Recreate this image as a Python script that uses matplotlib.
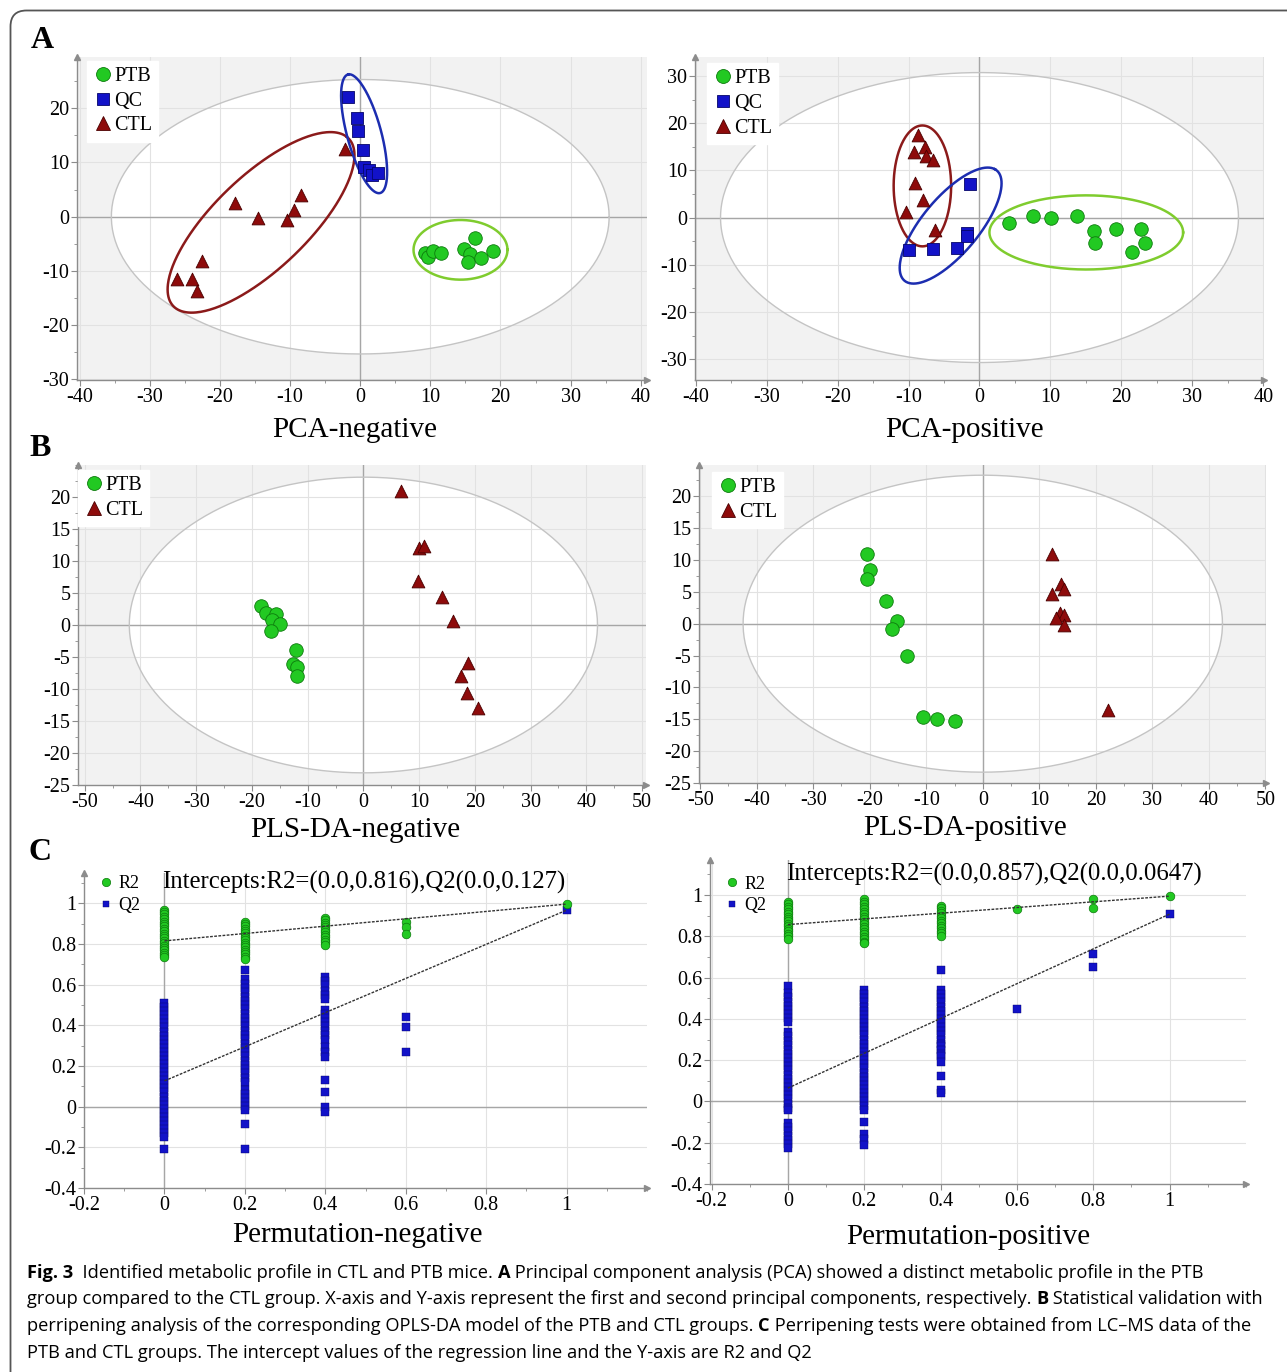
import numpy as np
import matplotlib
matplotlib.use('Agg')
import matplotlib.pyplot as plt
from matplotlib.ticker import AutoMinorLocator, FixedLocator, FuncFormatter
from matplotlib.patches import FancyBboxPatch
from matplotlib.lines import Line2D
import matplotlib.transforms as mtrans

SERIF = ['Liberation Serif', 'DejaVu Serif']
SANS = ['Open Sans', 'Noto Sans', 'DejaVu Sans']
plt.rcParams['axes.unicode_minus'] = False
plt.rcParams['font.family'] = SERIF

# ---------------- data ----------------
# PCA negative
pca_neg_ptb_x = [9.2, 9.7, 10.4, 11.5, 14.8, 15.6, 15.4, 16.3, 17.2, 18.9]
pca_neg_ptb_y = [-6.7, -7.5, -6.3, -6.7, -6.0, -6.9, -8.4, -4.0, -7.6, -6.4]
pca_neg_qc_x = [-1.8, -0.5, -0.3, 0.4, 0.5, 1.2, 1.7, 2.6]
pca_neg_qc_y = [22.1, 18.2, 15.8, 12.3, 9.2, 8.6, 7.7, 8.0]
pca_neg_ctl_x = [-2.2, -17.9, -14.6, -10.4, -9.5, -8.4, -22.5, -26.1, -24.0, -23.3]
pca_neg_ctl_y = [12.5, 2.6, -0.2, -0.6, 1.2, 4.0, -8.2, -11.5, -11.5, -13.7]
# PCA positive
pca_pos_ptb_x = [4.2, 7.5, 10.1, 13.8, 16.1, 16.3, 19.3, 22.8, 23.3, 21.5]
pca_pos_ptb_y = [-1.1, 0.3, 0.0, 0.35, -2.8, -5.4, -2.5, -2.5, -5.3, -7.2]
pca_pos_qc_x = [-1.4, -1.8, -1.75, -3.2, -6.5, -9.9]
pca_pos_qc_y = [7.2, -3.2, -3.8, -6.4, -6.7, -6.9]
pca_pos_ctl_x = [-8.6, -7.7, -9.3, -7.6, -6.6, -9.1, -8.0, -10.3, -6.3]
pca_pos_ctl_y = [17.4, 15.0, 13.9, 13.1, 12.1, 7.3, 3.7, 1.1, -2.7]
# PLS-DA negative
pls_neg_ptb_x = [-18.3, -17.4, -15.7, -16.4, -14.9, -16.6, -12.1, -12.6, -12.0, -11.9]
pls_neg_ptb_y = [2.9, 1.8, 1.7, 0.8, 0.2, -0.9, -3.9, -6.1, -6.6, -7.9]
pls_neg_ctl_x = [6.8, 10.0, 10.9, 9.8, 14.1, 16.1, 18.8, 17.6, 18.6, 20.6]
pls_neg_ctl_y = [20.9, 12.0, 12.3, 6.9, 4.4, 0.7, -6.0, -7.9, -10.7, -12.9]
# PLS-DA positive
pls_pos_ptb_x = [-20.4, -19.9, -20.4, -17.1, -15.1, -16.0, -13.4, -10.6, -8.1, -5.0]
pls_pos_ptb_y = [11.0, 8.4, 7.0, 3.5, 0.4, -0.8, -5.1, -14.7, -15.0, -15.3]
pls_pos_ctl_x = [12.3, 13.8, 14.3, 12.2, 13.6, 14.3, 13.0, 14.4, 22.2]
pls_pos_ctl_y = [10.9, 6.2, 5.5, 4.6, 1.7, 1.4, 0.9, -0.2, -13.6]

# Confidence ellipses: centre, half-axis vectors u and v (data units)
t2_pca_neg = [0.0, 0.0, 35.5, 0.0, 0.0, 25.3]
t2_pca_pos = [0.0, 0.0, 36.5, 0.0, 0.0, 30.7]
t2_pls_neg = [0.0, 0.0, 42.0, 0.0, 0.0, 23.1]
t2_pls_pos = [0.0, 0.0, 42.4, 0.0, 0.0, 23.3]
ell_neg_ctl = [-14.15, -1.04, 12.2, 15.8, -5.36, 5.23]
ell_neg_qc = [0.55, 15.3, -2.25, 10.94, -2.39, -0.62]
ell_neg_ptb = [14.3, -6.1, 6.7, 0.0, 0.0, 5.5]
ell_pos_ctl = [-8.05, 6.7, 4.05, 0.0, 0.0, 12.8]
ell_pos_qc = [-4.07, -1.7, 6.24, 11.94, -3.55, 2.89]
ell_pos_ptb = [15.05, -3.15, 13.65, 0.0, 0.0, 7.85]

# Permutation tests (negative)
neg_perm_x = [0.0, 0.2, 0.4, 0.6, 1.0]
neg_r2_0 = [0.970, 0.958, 0.947, 0.935, 0.923, 0.911, 0.899, 0.887, 0.876, 0.864, 0.852,
            0.840, 0.829, 0.817, 0.805, 0.793, 0.781, 0.770, 0.758, 0.746, 0.735]
neg_r2_2 = [0.910, 0.899, 0.887, 0.876, 0.864, 0.853, 0.841, 0.830, 0.818, 0.807, 0.795,
            0.784, 0.772, 0.761, 0.749, 0.738, 0.726]
neg_r2_4 = [0.930, 0.918, 0.906, 0.894, 0.882, 0.870, 0.858, 0.846, 0.834, 0.822, 0.810, 0.798]
neg_r2_6 = [0.910, 0.885, 0.852]
neg_r2_10 = [0.997]
neg_q2_0 = [0.51, 0.49, 0.47, 0.45, 0.43, 0.41, 0.39, 0.37, 0.35, 0.33, 0.31, 0.29, 0.27,
            0.25, 0.23, 0.21, 0.19, 0.17, 0.15, 0.13, 0.11, 0.09, 0.07, 0.05, 0.03, 0.01,
            -0.01, -0.03, -0.05, -0.07, -0.09, -0.11, -0.13, -0.15, -0.21]
neg_q2_2 = [0.675, 0.626, 0.605, 0.584, 0.563, 0.542, 0.521, 0.500, 0.479, 0.458, 0.437,
            0.416, 0.395, 0.374, 0.353, 0.332, 0.311, 0.290, 0.269, 0.248, 0.227, 0.206,
            0.185, 0.164, 0.143, 0.123, 0.082, 0.062, 0.042, 0.022, 0.003, -0.016, -0.085, -0.21]
neg_q2_4 = [0.64, 0.62, 0.60, 0.57, 0.55, 0.53, 0.475, 0.455, 0.435, 0.415, 0.395, 0.375,
            0.355, 0.33, 0.295, 0.27, 0.246, 0.13, 0.074, 0.0, -0.025]
neg_q2_6 = [0.44, 0.39, 0.27]
neg_q2_10 = [0.967]
neg_r2_intercept, neg_q2_intercept = 0.816, 0.127

# Permutation tests (positive)
pos_perm_x = [0.0, 0.2, 0.4, 0.6, 0.8, 1.0]
pos_r2_0 = [0.968, 0.956, 0.944, 0.932, 0.920, 0.908, 0.896, 0.884, 0.872, 0.860, 0.848,
            0.836, 0.824, 0.812, 0.800, 0.788]
pos_r2_2 = [0.979, 0.967, 0.955, 0.943, 0.931, 0.919, 0.907, 0.895, 0.883, 0.871, 0.859,
            0.847, 0.835, 0.823, 0.811, 0.799, 0.787, 0.775, 0.769]
pos_r2_4 = [0.948, 0.936, 0.924, 0.912, 0.900, 0.888, 0.876, 0.864, 0.852, 0.840, 0.828,
            0.816, 0.804]
pos_r2_6 = [0.934]
pos_r2_8 = [0.979, 0.939]
pos_r2_10 = [0.995]
pos_q2_0 = [0.561, 0.524, 0.504, 0.484, 0.464, 0.444, 0.424, 0.404, 0.387, 0.335, 0.315,
            0.295, 0.275, 0.25, 0.23, 0.21, 0.19, 0.17, 0.15, 0.13, 0.11, 0.09, 0.07, 0.05,
            0.03, 0.01, -0.01, -0.03, -0.04, -0.105, -0.125, -0.145, -0.165, -0.185, -0.205, -0.226]
pos_q2_2 = [0.54, 0.52, 0.50, 0.48, 0.46, 0.44, 0.42, 0.40, 0.38, 0.36, 0.34, 0.32, 0.30,
            0.28, 0.26, 0.24, 0.22, 0.20, 0.18, 0.16, 0.14, 0.12, 0.10, 0.08, 0.06, 0.04,
            0.02, 0.0, -0.02, -0.04, -0.10, -0.16, -0.18, -0.21]
pos_q2_4 = [0.637, 0.54, 0.52, 0.50, 0.48, 0.46, 0.44, 0.42, 0.40, 0.38, 0.36, 0.34, 0.32,
            0.30, 0.28, 0.27, 0.247, 0.232, 0.218, 0.189, 0.124, 0.056, 0.04]
pos_q2_6 = [0.448]
pos_q2_8 = [0.715, 0.653]
pos_q2_10 = [0.908]
pos_r2_intercept, pos_q2_intercept = 0.857, 0.0647

# ---------------- styling ----------------
GREEN, GREEN_E = '#22c922', '#0c7a0c'
BLUE, BLUE_E = '#1212c8', '#05056a'
RED, RED_E = '#8e0b0b', '#4a0000'
E_RED, E_BLUE, E_GREEN = '#8b1a1a', '#1c2db0', '#7fcc2e'
BG = '#f2f2f2'
GRID = '#e2e2e2'
AXC = '#8c8c8c'

W, H = 1287, 1372
fig = plt.figure(figsize=(W / 100, H / 100), dpi=100)


def add_ax(x0, y0, x1, y1):
    return fig.add_axes([x0 / W, 1 - y1 / H, (x1 - x0) / W, (y1 - y0) / H])


def ell_xy(p, n=300):
    t = np.linspace(0, 2 * np.pi, n)
    x = p[0] + p[2] * np.cos(t) + p[4] * np.sin(t)
    y = p[1] + p[3] * np.cos(t) + p[5] * np.sin(t)
    return x, y


def style_axes(ax, xlim, ylim, xticks, yticks, bg, fmt=None):
    ax.set_xlim(*xlim)
    ax.set_ylim(*ylim)
    ax.set_facecolor(bg)
    for s in ['top', 'right']:
        ax.spines[s].set_visible(False)
    for s in ['left', 'bottom']:
        ax.spines[s].set_color(AXC)
        ax.spines[s].set_linewidth(1.0)
    ax.xaxis.set_major_locator(FixedLocator(xticks))
    ax.yaxis.set_major_locator(FixedLocator(yticks))
    ax.xaxis.set_minor_locator(AutoMinorLocator(2))
    ax.yaxis.set_minor_locator(AutoMinorLocator(2))
    if fmt is not None:
        ax.xaxis.set_major_formatter(FuncFormatter(fmt))
        ax.yaxis.set_major_formatter(FuncFormatter(fmt))
    ax.tick_params(which='both', direction='out', color=AXC, labelsize=14.5,
                   labelcolor='black', pad=1.5)
    ax.tick_params(which='major', length=4)
    ax.tick_params(which='minor', length=2)
    ax.set_axisbelow('line')
    ax.grid(True, which='major', color=GRID, lw=0.8)
    ax.axhline(0, color='#a6a6a6', lw=1.0, zorder=1.6)
    ax.axvline(0, color='#a6a6a6', lw=1.0, zorder=1.6)
    ax.plot([0], [1], marker='^', ms=4, color=AXC, transform=ax.transAxes, clip_on=False)
    ax.plot([1], [0], marker='>', ms=4, color=AXC, transform=ax.transAxes, clip_on=False)


def score_panel(ax, t2, groups, ellipses, legend_anchor):
    x, y = ell_xy(t2)
    ax.fill(x, y, color='white', zorder=0.5, lw=0)
    ax.plot(x, y, color='#c4c4c4', lw=1.0, zorder=1.7)
    for p, c in ellipses:
        ex, ey = ell_xy(p)
        ax.plot(ex, ey, color=c, lw=1.8, zorder=2)
    handles = []
    for gx, gy, name in groups:
        if name == 'PTB':
            kw = dict(marker='o', s=95, c=GREEN, edgecolors=GREEN_E, linewidths=0.6)
            h = Line2D([], [], ls='', marker='o', ms=10, mfc=GREEN, mec=GREEN_E, mew=0.6)
        elif name == 'QC':
            kw = dict(marker='s', s=80, c=BLUE, edgecolors=BLUE_E, linewidths=0.6)
            h = Line2D([], [], ls='', marker='s', ms=9, mfc=BLUE, mec=BLUE_E, mew=0.6)
        else:
            kw = dict(marker='^', s=85, c=RED, edgecolors=RED_E, linewidths=0.6)
            h = Line2D([], [], ls='', marker='^', ms=9.5, mfc=RED, mec=RED_E, mew=0.6)
        ax.scatter(gx, gy, zorder=3, **kw)
        handles.append((h, name))
    leg = ax.legend([h for h, _ in handles], [n for _, n in handles], loc='upper left',
                    bbox_to_anchor=legend_anchor, borderaxespad=0, frameon=True,
                    fancybox=False, framealpha=1, edgecolor='white', facecolor='white',
                    prop={'family': SERIF, 'size': 14.5}, handletextpad=0.05,
                    handlelength=1.0, labelspacing=0.28, borderpad=0.3)
    leg.set_zorder(5)


# ---------- Panel A ----------
axA1 = add_ax(77, 57, 647, 380)
style_axes(axA1, (-40.4, 40.9), (-30.1, 29.45), range(-40, 41, 10), range(-30, 21, 10), BG)
score_panel(axA1, t2_pca_neg,
            [(pca_neg_ptb_x, pca_neg_ptb_y, 'PTB'), (pca_neg_qc_x, pca_neg_qc_y, 'QC'),
             (pca_neg_ctl_x, pca_neg_ctl_y, 'CTL')],
            [(ell_neg_ctl, E_RED), (ell_neg_qc, E_BLUE), (ell_neg_ptb, E_GREEN)],
            (0.0175, 0.988))

axA2 = add_ax(695, 57, 1264, 380)
style_axes(axA2, (-40.1, 40.1), (-34.4, 34.0), range(-40, 41, 10), range(-30, 31, 10), BG)
score_panel(axA2, t2_pca_pos,
            [(pca_pos_ptb_x, pca_pos_ptb_y, 'PTB'), (pca_pos_qc_x, pca_pos_qc_y, 'QC'),
             (pca_pos_ctl_x, pca_pos_ctl_y, 'CTL')],
            [(ell_pos_ctl, E_RED), (ell_pos_qc, E_BLUE), (ell_pos_ptb, E_GREEN)],
            (0.021, 0.981))

# ---------- Panel B ----------
axB1 = add_ax(78, 465, 646, 785)
style_axes(axB1, (-51.2, 50.7), (-25, 25), range(-50, 51, 10), range(-25, 21, 5), BG)
score_panel(axB1, t2_pls_neg,
            [(pls_neg_ptb_x, pls_neg_ptb_y, 'PTB'), (pls_neg_ctl_x, pls_neg_ctl_y, 'CTL')],
            [], (0.0, 0.984))

axB2 = add_ax(699, 465, 1266, 783)
style_axes(axB2, (-50.2, 50.1), (-25, 24.9), range(-50, 51, 10), range(-25, 21, 5), BG)
score_panel(axB2, t2_pls_pos,
            [(pls_pos_ptb_x, pls_pos_ptb_y, 'PTB'), (pls_pos_ctl_x, pls_pos_ctl_y, 'CTL')],
            [], (0.023, 0.978))


# ---------- Panel C ----------
def fmt_perm(v, pos=None):
    s = '%.1f' % v
    if s in ('0.0', '-0.0'):
        return '0'
    if s == '1.0':
        return '1'
    return s


def perm_panel(ax, xs, r2_lists, q2_lists, r2_int, q2_int, text, text_pos, leg_y):
    for xv, vals in zip(xs, q2_lists):
        ax.plot([xv] * len(vals), vals, ls='', marker='s', ms=5.2, mfc=BLUE, mec=BLUE_E,
                mew=0.3, zorder=3)
    for xv, vals in zip(xs, r2_lists):
        ax.plot([xv] * len(vals), vals, ls='', marker='o', ms=6.2, mfc=GREEN, mec=GREEN_E,
                mew=0.5, zorder=3.2)
    ax.plot([0, xs[-1]], [r2_int, r2_lists[-1][0]], ls=(0, (2, 1)), color='#333333',
            lw=1.0, zorder=3.5)
    ax.plot([0, xs[-1]], [q2_int, q2_lists[-1][0]], ls=(0, (2, 1)), color='#333333',
            lw=1.0, zorder=3.5)
    hr = Line2D([], [], ls='', marker='o', ms=6, mfc=GREEN, mec=GREEN_E, mew=0.5)
    hq = Line2D([], [], ls='', marker='s', ms=5, mfc=BLUE, mec=BLUE_E, mew=0.3)
    ax.legend([hr, hq], ['R2', 'Q2'], loc='upper left', bbox_to_anchor=(0.0, leg_y),
              frameon=False, prop={'family': SERIF, 'size': 13}, handletextpad=0.1,
              handlelength=1.2, labelspacing=0.25, borderaxespad=0.2)
    ax.text(text_pos[0], text_pos[1], text, transform=ax.transAxes, ha='left', va='center',
            family=SERIF, fontsize=17.8)


axC1 = add_ax(84, 873, 647, 1188)
style_axes(axC1, (-0.2, 1.2), (-0.4, 1.15), [-0.2, 0, 0.2, 0.4, 0.6, 0.8, 1.0],
           [-0.4, -0.2, 0, 0.2, 0.4, 0.6, 0.8, 1.0], 'white', fmt_perm)
perm_panel(axC1, neg_perm_x, [neg_r2_0, neg_r2_2, neg_r2_4, neg_r2_6, neg_r2_10],
           [neg_q2_0, neg_q2_2, neg_q2_4, neg_q2_6, neg_q2_10],
           neg_r2_intercept, neg_q2_intercept,
           'Intercepts:R2=(0.0,0.816),Q2(0.0,0.127)', (0.139, 0.971), 1.027)

axC2 = add_ax(710, 860, 1246, 1184)
style_axes(axC2, (-0.204, 1.2), (-0.4, 1.17), [-0.2, 0, 0.2, 0.4, 0.6, 0.8, 1.0],
           [-0.4, -0.2, 0, 0.2, 0.4, 0.6, 0.8, 1.0], 'white', fmt_perm)
perm_panel(axC2, pos_perm_x, [pos_r2_0, pos_r2_2, pos_r2_4, pos_r2_6, pos_r2_8, pos_r2_10],
           [pos_q2_0, pos_q2_2, pos_q2_4, pos_q2_6, pos_q2_8, pos_q2_10],
           pos_r2_intercept, pos_q2_intercept,
           'Intercepts:R2=(0.0,0.857),Q2(0.0,0.0647)', (0.142, 0.954), 0.985)

# ---------- titles & labels ----------
titles = [('PCA-negative', 355, 430), ('PCA-positive', 965, 430),
          ('PLS-DA-negative', 355, 830), ('PLS-DA-positive', 965, 828),
          ('Permutation-negative', 357, 1235), ('Permutation-positive', 968, 1237)]
for txt, cx, cy in titles:
    fig.text(cx / W, 1 - cy / H, txt, ha='center', va='center', family=SERIF, fontsize=21)

for txt, cx, cy in [('A', 42, 41), ('B', 40, 449), ('C', 40, 853)]:
    fig.text(cx / W, 1 - cy / H, txt, ha='center', va='center', family=SERIF,
             fontsize=23, fontweight='bold')

# ---------- caption ----------
renderer = fig.canvas.get_renderer()


def text_w(s, bold, size):
    wt = 'bold' if bold else 'normal'
    t = fig.text(0, 0, 'X' + s + 'X', family=SANS, fontsize=size, fontweight=wt)
    t2 = fig.text(0, 0, 'XX', family=SANS, fontsize=size, fontweight=wt)
    w = t.get_window_extent(renderer).width - t2.get_window_extent(renderer).width
    t.remove()
    t2.remove()
    return w


caption = [
    [('Fig. 3', True), ('  Identified metabolic profile in CTL and PTB mice. ', False), ('A', True),
     (' Principal component analysis (PCA) showed a distinct metabolic profile in the PTB', False)],
    [('group compared to the CTL group. X-axis and Y-axis represent the first and second '
      'principal components, respectively. ', False), ('B', True),
     (' Statistical validation with', False)],
    [('perripening analysis of the corresponding OPLS-DA model of the PTB and CTL groups. ', False),
     ('C', True), (' Perripening tests were obtained from LC\u2013MS data of the', False)],
    [('PTB and CTL groups. The intercept values of the regression line and the Y-axis are R2 and Q2',
      False)],
]
base = 12.0
w2 = sum(text_w(s, b, base) for s, b in caption[1])
csize = base * (1258 - 27) / w2
for line, cy in zip(caption, [1273, 1299, 1326, 1353]):
    x = 27
    for s, b in line:
        fig.text(x / W, 1 - cy / H, s, family=SANS, fontsize=csize,
                 fontweight='bold' if b else 'normal', ha='left', va='center')
        x += text_w(s, b, csize)

# ---------- frame ----------
frame = FancyBboxPatch((10.5, -20), 1320, 1372 - 10.5 + 20,
                       boxstyle='round,pad=0,rounding_size=16',
                       transform=mtrans.IdentityTransform(), fill=False,
                       edgecolor='#555555', lw=1.3)
fig.patches.append(frame)

fig.savefig('out.png', dpi=100)
